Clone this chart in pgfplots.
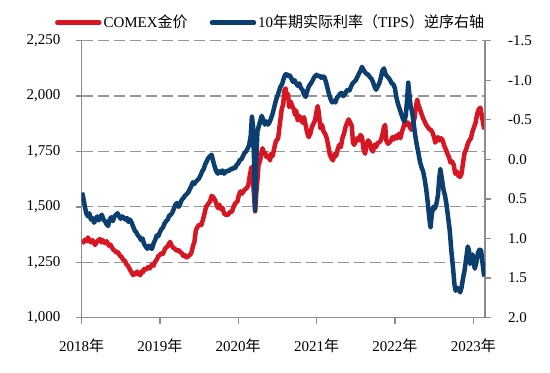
\documentclass[border=0pt]{standalone}
\usepackage{pgfplots}
\pgfplotsset{compat=1.18}
\usepackage{fontspec}
\setmainfont{Liberation Serif}
\newfontfamily\cjk{Noto Sans CJK SC}
\definecolor{goldred}{RGB}{215,22,35}
\definecolor{tipsblue}{RGB}{12,62,112}
\definecolor{axgray}{RGB}{140,140,140}
\definecolor{grdgray}{RGB}{150,150,150}
\begin{document}
\fontsize{15bp}{18bp}\selectfont
\begin{tikzpicture}
\useasboundingbox (-81.5bp,-55.3bp) rectangle (468.5bp,317.7bp);
\pgfplotsset{
  base/.style={
    scale only axis, width=403.5bp, height=277bp,
    xmin=2018, xmax=2023.15,
    tick align=outside, major tick length=6bp,
    axis line style={draw=axgray, line width=1.3bp, -},
    tick style={draw=axgray, line width=1.3bp},
    /pgf/number format/assume math mode=true,
    ticklabel style={font=\fontsize{15bp}{18bp}\selectfont},
  }
}
\begin{axis}[base,
  axis x line*=bottom, axis y line*=left,
  ymin=1000, ymax=2250, ytick={1000,1250,1500,1750,2000,2250},
  yticklabel style={/pgf/number format/1000 sep={,}, xshift=-10bp},
  xticklabel style={yshift=-10bp},
  xtick={2018,2019,2020,2021,2022,2023},
  xticklabels={2018{\cjk 年},2019{\cjk 年},2020{\cjk 年},2021{\cjk 年},2022{\cjk 年},2023{\cjk 年}},
  ymajorgrids, major grid style={draw=grdgray, line width=1.2bp, dash pattern=on 11bp off 5bp},
]
\addplot[goldred, line width=4.5bp, line join=round] table {
2018.006 1335
2018.025 1342
2018.045 1352
2018.065 1345
2018.083 1362
2018.10 1350
2018.12 1340
2018.14 1350
2018.172 1328
2018.19 1338
2018.21 1348
2018.236 1355
2018.255 1340
2018.27 1350
2018.300 1336
2018.32 1345
2018.35 1325
2018.37 1330
2018.390 1316
2018.41 1305
2018.43 1302
2018.45 1292
2018.466 1295
2018.49 1280
2018.51 1275
2018.53 1262
2018.556 1256
2018.575 1240
2018.594 1234
2018.61 1222
2018.63 1210
2018.658 1192
2018.675 1200
2018.69 1196
2018.71 1208
2018.722 1200
2018.75 1192
2018.77 1210
2018.785 1205
2018.80 1220
2018.82 1216
2018.849 1228
2018.87 1222
2018.90 1240
2018.92 1235
2018.939 1252
2018.96 1262
2018.98 1278
2019.003 1284
2019.02 1292
2019.04 1288
2019.067 1312
2019.085 1318
2019.10 1322
2019.12 1336
2019.131 1342
2019.15 1326
2019.17 1316
2019.194 1310
2019.215 1302
2019.24 1306
2019.26 1296
2019.284 1290
2019.30 1278
2019.32 1282
2019.34 1272
2019.360 1276
2019.38 1282
2019.40 1290
2019.424 1325
2019.44 1340
2019.46 1395
2019.475 1405
2019.49 1415
2019.51 1420
2019.53 1418
2019.552 1445
2019.57 1470
2019.59 1500
2019.61 1510
2019.641 1525
2019.66 1550
2019.68 1545
2019.705 1530
2019.72 1515
2019.74 1495
2019.76 1510
2019.78 1490
2019.80 1495
2019.82 1470
2019.84 1465
2019.86 1463
2019.88 1470
2019.90 1478
2019.92 1478
2019.94 1500
2019.96 1515
2019.99 1525
2020.01 1555
2020.03 1570
2020.05 1560
2020.07 1572
2020.09 1580
2020.11 1585
2020.13 1600
2020.15 1645
2020.17 1680
2020.185 1640
2020.20 1560
2020.216 1480
2020.23 1560
2020.245 1620
2020.26 1690
2020.28 1710
2020.295 1740
2020.31 1765
2020.325 1740
2020.344 1745
2020.36 1725
2020.38 1730
2020.407 1710
2020.42 1740
2020.44 1730
2020.46 1765
2020.48 1795
2020.51 1810
2020.53 1870
2020.555 1940
2020.575 1965
2020.59 2025
2020.605 2035
2020.62 1990
2020.635 2010
2020.65 1950
2020.67 1975
2020.69 1955
2020.71 1940
2020.725 1915
2020.74 1935
2020.76 1890
2020.78 1910
2020.80 1900
2020.82 1880
2020.84 1905
2020.86 1870
2020.88 1835
2020.90 1815
2020.92 1830
2020.94 1860
2020.96 1875
2020.98 1890
2021.00 1930
2021.015 1955
2021.03 1920
2021.05 1855
2021.07 1870
2021.09 1840
2021.11 1830
2021.13 1810
2021.15 1775
2021.17 1735
2021.19 1720
2021.21 1710
2021.23 1740
2021.25 1730
2021.27 1760
2021.29 1780
2021.31 1770
2021.33 1810
2021.35 1830
2021.37 1860
2021.39 1880
2021.41 1895
2021.43 1880
2021.45 1865
2021.465 1790
2021.48 1780
2021.50 1795
2021.52 1810
2021.54 1800
2021.56 1825
2021.58 1815
2021.60 1760
2021.62 1740
2021.64 1785
2021.66 1800
2021.68 1790
2021.70 1760
2021.72 1750
2021.74 1780
2021.76 1770
2021.78 1790
2021.80 1790
2021.82 1800
2021.84 1825
2021.86 1860
2021.875 1870
2021.89 1800
2021.91 1785
2021.93 1790
2021.95 1800
2021.97 1815
2021.99 1805
2022.01 1820
2022.03 1810
2022.05 1830
2022.07 1810
2022.09 1840
2022.11 1860
2022.13 1890
2022.15 1870
2022.17 1880
2022.19 1860
2022.21 1848
2022.23 1875
2022.25 1900
2022.27 1955
2022.285 1984
2022.30 1960
2022.32 1940
2022.34 1920
2022.36 1900
2022.38 1885
2022.40 1870
2022.42 1860
2022.44 1850
2022.46 1848
2022.48 1835
2022.50 1815
2022.515 1790
2022.53 1800
2022.55 1815
2022.57 1800
2022.59 1810
2022.61 1800
2022.63 1775
2022.65 1760
2022.67 1740
2022.69 1725
2022.71 1700
2022.73 1705
2022.75 1690
2022.77 1650
2022.79 1660
2022.81 1640
2022.834 1636
2022.85 1650
2022.87 1700
2022.89 1745
2022.91 1760
2022.93 1785
2022.95 1800
2022.97 1810
2022.99 1840
2023.01 1860
2023.03 1880
2023.05 1920
2023.07 1940
2023.09 1948
2023.11 1910
2023.125 1880
2023.14 1850
};
\end{axis}
\begin{axis}[base,
  axis x line=none, axis y line*=right,
  ymin=-1.5, ymax=2.0, y dir=reverse,
  ytick={-1.5,-1,-0.5,0,0.5,1,1.5,2},
  yticklabel style={/pgf/number format/.cd, fixed, fixed zerofill, precision=1, /tikz/.cd, xshift=12bp},
  legend columns=2,
  legend style={draw=none, fill=none, at={(axis description cs:-0.066,1.065)}, anchor=west,
    inner sep=0pt, font=\fontsize{15bp}{18bp}\selectfont,
    /tikz/every even column/.append style={column sep=20bp}},
  legend image code/.code={\draw[#1, line cap=round] (0bp,0bp) -- (42bp,0bp);},
]
\addlegendimage{goldred, line width=4.5bp}
\addlegendentry{COMEX{\cjk 金价}}
\addplot[tipsblue, line width=4.5bp, line join=round] table {
2018.006 0.42
2018.02 0.47
2018.04 0.58
2018.06 0.68
2018.083 0.72
2018.10 0.68
2018.12 0.76
2018.14 0.74
2018.16 0.80
2018.18 0.76
2018.20 0.72
2018.22 0.77
2018.24 0.72
2018.26 0.70
2018.28 0.76
2018.30 0.78
2018.32 0.82
2018.34 0.84
2018.36 0.76
2018.38 0.73
2018.40 0.78
2018.42 0.72
2018.44 0.70
2018.46 0.68
2018.48 0.72
2018.50 0.75
2018.52 0.72
2018.54 0.74
2018.56 0.76
2018.58 0.74
2018.60 0.79
2018.62 0.76
2018.64 0.80
2018.66 0.85
2018.68 0.90
2018.70 0.92
2018.72 0.96
2018.74 0.98
2018.76 1.02
2018.78 1.00
2018.80 1.07
2018.82 1.10
2018.84 1.13
2018.86 1.09
2018.88 1.12
2018.90 1.13
2018.92 1.06
2018.94 1.02
2018.96 0.96
2018.98 0.97
2019.00 0.92
2019.02 0.88
2019.04 0.86
2019.06 0.81
2019.08 0.78
2019.10 0.76
2019.12 0.71
2019.14 0.70
2019.16 0.67
2019.18 0.62
2019.20 0.57
2019.22 0.55
2019.24 0.60
2019.26 0.56
2019.28 0.51
2019.30 0.49
2019.32 0.46
2019.34 0.44
2019.36 0.42
2019.38 0.38
2019.40 0.34
2019.42 0.29
2019.44 0.31
2019.46 0.28
2019.48 0.26
2019.50 0.24
2019.52 0.20
2019.54 0.15
2019.56 0.12
2019.58 0.06
2019.60 0.02
2019.62 -0.02
2019.64 -0.04
2019.66 -0.06
2019.68 0.02
2019.70 0.09
2019.72 0.15
2019.74 0.18
2019.76 0.15
2019.78 0.17
2019.80 0.14
2019.82 0.18
2019.84 0.16
2019.86 0.14
2019.88 0.15
2019.90 0.12
2019.92 0.13
2019.94 0.10
2019.96 0.11
2019.98 0.07
2020.00 0.05
2020.02 0.01
2020.04 0.00
2020.06 -0.04
2020.08 -0.08
2020.10 -0.10
2020.12 -0.14
2020.14 -0.18
2020.16 -0.30
2020.175 -0.54
2020.19 -0.42
2020.205 0.10
2020.216 0.64
2020.23 0.05
2020.245 -0.35
2020.26 -0.41
2020.28 -0.48
2020.30 -0.55
2020.32 -0.50
2020.34 -0.44
2020.36 -0.48
2020.38 -0.44
2020.40 -0.47
2020.42 -0.52
2020.44 -0.58
2020.46 -0.66
2020.48 -0.74
2020.50 -0.80
2020.52 -0.86
2020.54 -0.92
2020.56 -0.95
2020.58 -1.02
2020.60 -1.07
2020.62 -1.08
2020.64 -1.05
2020.66 -1.06
2020.68 -1.02
2020.70 -0.98
2020.72 -1.00
2020.74 -0.96
2020.76 -0.93
2020.78 -0.96
2020.80 -0.90
2020.82 -0.88
2020.84 -0.82
2020.86 -0.79
2020.88 -0.86
2020.90 -0.92
2020.92 -0.95
2020.94 -0.98
2020.96 -1.02
2020.98 -1.05
2021.00 -1.07
2021.02 -1.05
2021.04 -1.06
2021.06 -1.03
2021.08 -1.05
2021.10 -1.04
2021.12 -0.98
2021.14 -0.90
2021.16 -0.82
2021.18 -0.76
2021.20 -0.72
2021.22 -0.74
2021.24 -0.72
2021.26 -0.78
2021.28 -0.80
2021.30 -0.83
2021.32 -0.84
2021.34 -0.80
2021.36 -0.82
2021.38 -0.86
2021.40 -0.88
2021.42 -0.87
2021.44 -0.92
2021.46 -0.96
2021.48 -0.98
2021.50 -1.00
2021.52 -1.04
2021.54 -1.08
2021.56 -1.12
2021.58 -1.17
2021.60 -1.13
2021.62 -1.10
2021.64 -1.08
2021.66 -1.07
2021.68 -1.04
2021.70 -1.02
2021.72 -0.98
2021.74 -0.92
2021.76 -0.88
2021.78 -0.92
2021.80 -0.96
2021.82 -1.03
2021.84 -1.12
2021.86 -1.15
2021.88 -1.08
2021.90 -1.05
2021.92 -1.03
2021.94 -1.00
2021.96 -0.96
2021.98 -0.95
2022.00 -0.90
2022.02 -0.78
2022.04 -0.70
2022.06 -0.64
2022.08 -0.58
2022.10 -0.52
2022.12 -0.48
2022.14 -0.56
2022.155 -0.75
2022.17 -0.97
2022.185 -0.82
2022.20 -0.68
2022.22 -0.60
2022.24 -0.45
2022.26 -0.30
2022.28 -0.18
2022.30 -0.08
2022.32 0.03
2022.34 0.10
2022.36 0.15
2022.38 0.25
2022.40 0.38
2022.42 0.55
2022.44 0.75
2022.455 0.86
2022.47 0.70
2022.49 0.60
2022.51 0.62
2022.53 0.56
2022.55 0.45
2022.565 0.25
2022.58 0.12
2022.60 0.25
2022.62 0.38
2022.64 0.46
2022.66 0.58
2022.68 0.74
2022.70 0.90
2022.72 1.15
2022.74 1.35
2022.76 1.58
2022.775 1.66
2022.79 1.62
2022.81 1.64
2022.834 1.68
2022.85 1.62
2022.87 1.50
2022.89 1.40
2022.91 1.25
2022.93 1.10
2022.945 1.15
2022.96 1.32
2022.975 1.28
2022.99 1.20
2023.005 1.30
2023.02 1.38
2023.04 1.30
2023.06 1.18
2023.08 1.14
2023.10 1.15
2023.115 1.28
2023.13 1.40
2023.14 1.48
};
\addlegendentry{10{\cjk 年期实际利率（}TIPS{\cjk ）逆序右轴}}
\end{axis}
\end{tikzpicture}
\end{document}
